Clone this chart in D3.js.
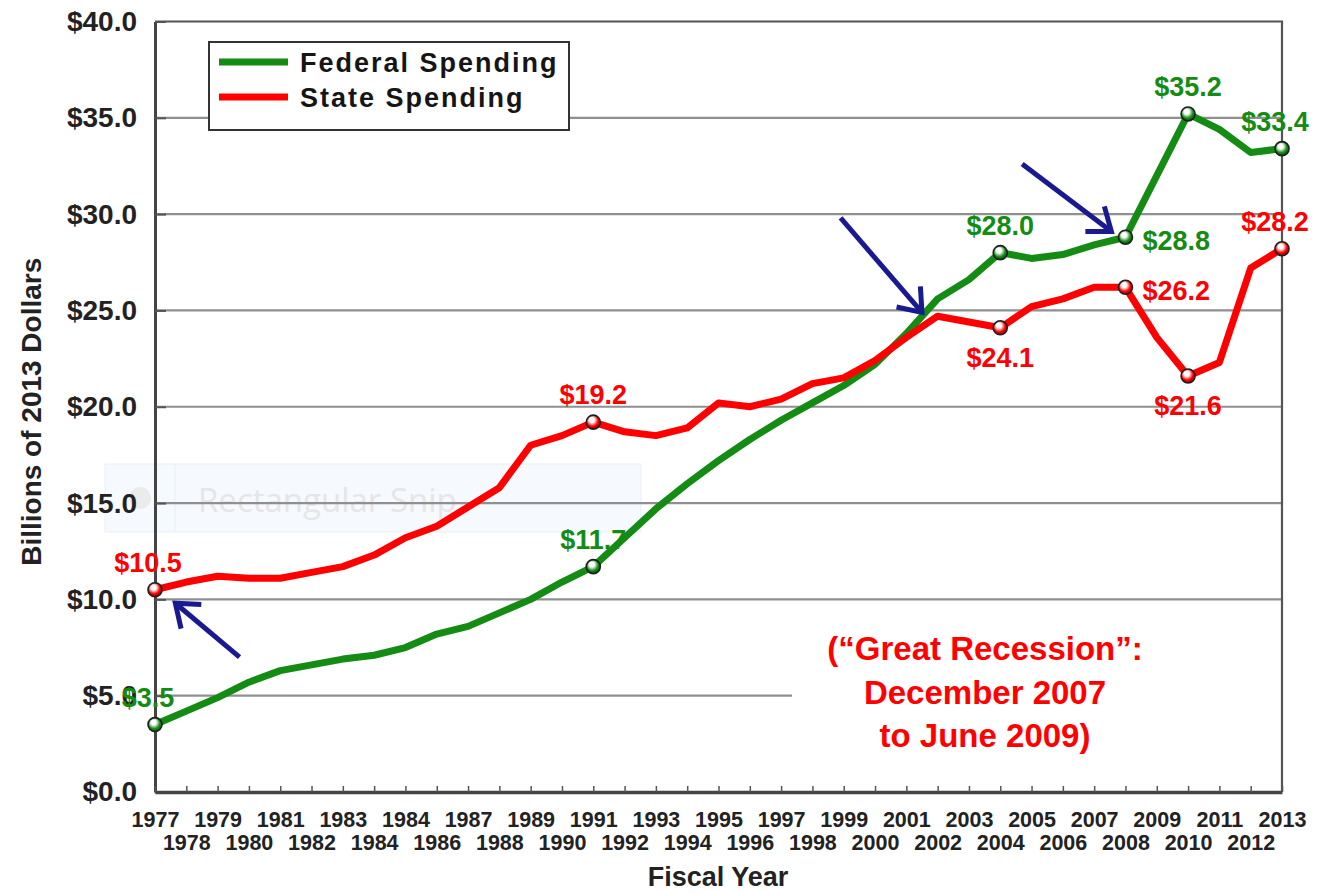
<!DOCTYPE html>
<html><head><meta charset="utf-8">
<script src="https://cdn.jsdelivr.net/npm/d3@7"></script>
<style>
html,body{margin:0;padding:0;background:#fff;}
svg{display:block;font-family:"Liberation Sans",Arial,Helvetica,sans-serif;}
</style>
</head><body>
<svg id="chart" width="1323" height="893"></svg>
<script>
// ---------- data ----------
const years = [1977,1978,1979,1980,1981,1982,1983,1984,1985,1986,1987,1988,1989,1990,1991,1992,1993,1994,1995,1996,1997,1998,1999,2000,2001,2002,2003,2004,2005,2006,2007,2008,2009,2010,2011,2012,2013];
const tickLabels = ["1977","1978","1979","1980","1981","1982","1983","1984","1984","1986","1987","1988","1989","1990","1991","1992","1993","1994","1995","1996","1997","1998","1999","2000","2001","2002","2003","2004","2005","2006","2007","2008","2009","2010","2011","2012","2013"];
const federal = [3.5,4.2,4.9,5.7,6.3,6.6,6.9,7.1,7.5,8.2,8.6,9.3,10.0,10.9,11.7,13.2,14.7,16.0,17.2,18.3,19.3,20.2,21.1,22.2,23.8,25.6,26.6,28.0,27.7,27.9,28.4,28.8,32.0,35.2,34.4,33.2,33.4];
const state   = [10.5,10.9,11.2,11.1,11.1,11.4,11.7,12.3,13.2,13.8,14.8,15.8,18.0,18.5,19.2,18.7,18.5,18.9,20.2,20.0,20.4,21.2,21.5,22.4,23.6,24.7,24.4,24.1,25.2,25.6,26.2,26.2,23.6,21.6,22.3,27.2,28.2];
const yTicks = [0,5,10,15,20,25,30,35,40];
const seriesNames = ["Federal Spending","State Spending"];
const seriesColors = ["#148c14","#ff0000"];
const calloutYears = [
  [1977,1991,2004,2008,2010,2013],
  [1977,1991,2004,2008,2010,2013]
];
const calloutTexts = [
  ["$3.5","$11.7","$28.0","$28.8","$35.2","$33.4"],
  ["$10.5","$19.2","$24.1","$26.2","$21.6","$28.2"]
];
const calloutPlacement = [
  ["above","above","above","right","above","above"],
  ["above","above","below","right","below","above"]
];
// arrows in data units: [fromYear, fromValue, toYear, toValue]
const arrows = [
  [1979.7, 7.0, 1977.65, 9.8],
  [1998.9, 29.8, 2001.5, 24.9],
  [2004.7, 32.6, 2007.55, 29.1]
];
const noteLines = ["(\u201CGreat Recession\u201D:", "December 2007", "to June 2009)"];
const yTitle = "Billions of 2013 Dollars";
const xTitle = "Fiscal Year";

// ---------- layout ----------
const svg = d3.select("#chart");
const L = 155, R = 1282, T = 21.5, B = 792;
const x = d3.scaleLinear().domain([1977, 2013]).range([L, R]);
const y = d3.scaleLinear().domain([0, 40]).range([B, T]);
const series = [federal, state];

// defs: gradients for markers
const defs = svg.append("defs");
seriesColors.forEach((c, i) => {
  const g = defs.append("radialGradient").attr("id", "ball" + i)
    .attr("cx", "45%").attr("cy", "40%").attr("r", "60%").attr("fx", "38%").attr("fy", "32%");
  g.append("stop").attr("offset", "0%").attr("stop-color", "#ffffff");
  g.append("stop").attr("offset", "30%").attr("stop-color", "#ffffff");
  g.append("stop").attr("offset", "70%").attr("stop-color", c);
  g.append("stop").attr("offset", "100%").attr("stop-color", d3.color(c).darker(1.2));
});

// faint screenshot artifact
const snip = svg.append("g");
snip.append("rect").attr("x", 105).attr("y", 464).attr("width", 536).attr("height", 68)
  .attr("fill", "#f6f9fd").attr("stroke", "#e9eff7");
snip.append("line").attr("x1", 175).attr("x2", 175).attr("y1", 464).attr("y2", 532).attr("stroke", "#e9eff7");
snip.append("circle").attr("cx", 140).attr("cy", 498).attr("r", 11).attr("fill", "#ebebeb");
snip.append("text").attr("x", 198).attr("y", 512).attr("font-family", "'Open Sans',sans-serif")
  .attr("font-size", 33).attr("fill", "#e6e6e6").text("Rectangular Snip");

// gridlines
svg.append("g").selectAll("line").data(yTicks.filter(d => d > 0 && d < 40)).join("line")
  .attr("x1", L).attr("x2", R).attr("y1", d => y(d)).attr("y2", d => y(d))
  .attr("stroke", "#8f8f8f").attr("stroke-width", 2.2);

// white box behind note
svg.append("rect").attr("x", 792).attr("y", 615).attr("width", R - 792 - 1).attr("height", 160).attr("fill", "#fff");

// frame (top / right)
svg.append("path").attr("d", `M${L},${T}H${R}V${B}`).attr("fill", "none")
  .attr("stroke", "#555").attr("stroke-width", 2.2);

// y axis
const yAxis = d3.axisLeft(y).tickValues(yTicks).tickSizeInner(-11).tickSizeOuter(0).tickPadding(18)
  .tickFormat(d => "$" + d.toFixed(1));
const gy = svg.append("g").attr("transform", `translate(${L},0)`).call(yAxis);
gy.select(".domain").attr("stroke", "#444").attr("stroke-width", 3);
gy.selectAll(".tick line").attr("stroke", "#555").attr("stroke-width", 2);
gy.selectAll(".tick text").attr("font-size", 28).attr("font-weight", "bold").attr("fill", "#222")
  .attr("font-family", "'Liberation Sans',Arial,sans-serif");

// x axis
const xAxis = d3.axisBottom(x).tickValues(years).tickSizeInner(-6).tickSizeOuter(0).tickPadding(0)
  .tickFormat((d, i) => tickLabels[i]);
const gx = svg.append("g").attr("transform", `translate(0,${B})`).call(xAxis);
gx.select(".domain").attr("stroke", "#444").attr("stroke-width", 3.5);
gx.selectAll(".tick line").attr("stroke", "#555").attr("stroke-width", 1.5);
gx.selectAll(".tick text")
  .attr("font-size", 21.5).attr("font-weight", "bold").attr("fill", "#222")
  .attr("font-family", "'Liberation Sans',Arial,sans-serif")
  .attr("dy", null)
  .attr("y", (d, i) => (i % 2 === 0 ? 35 : 58));

// axis titles
svg.append("text").attr("transform", `translate(41,${(T + B) / 2 + 5}) rotate(-90)`)
  .attr("text-anchor", "middle").attr("font-size", 28).attr("font-weight", "bold").attr("fill", "#222")
  .text(yTitle);
svg.append("text").attr("x", 718).attr("y", 886).attr("text-anchor", "middle")
  .attr("font-size", 27).attr("font-weight", "bold").attr("fill", "#222").text(xTitle);

// series lines
const line = d3.line().x((d, i) => x(years[i])).y(d => y(d));
series.forEach((s, k) => {
  svg.append("path").datum(s).attr("d", line).attr("fill", "none")
    .attr("stroke", seriesColors[k]).attr("stroke-width", 7)
    .attr("stroke-linejoin", "round").attr("stroke-linecap", "round");
});

// arrows
const ag = svg.append("g").attr("stroke", "#1a1a90").attr("stroke-width", 5)
  .attr("fill", "none").attr("stroke-linecap", "butt").attr("stroke-linejoin", "miter");
arrows.forEach(a => {
  const x1 = x(a[0]), y1 = y(a[1]), x2 = x(a[2]), y2 = y(a[3]);
  const ang = Math.atan2(y2 - y1, x2 - x1);
  const hl = 26, ha = 0.65;
  const p1 = [x2 - hl * Math.cos(ang - ha), y2 - hl * Math.sin(ang - ha)];
  const p2 = [x2 - hl * Math.cos(ang + ha), y2 - hl * Math.sin(ang + ha)];
  ag.append("line").attr("x1", x1).attr("y1", y1).attr("x2", x2 - 2 * Math.cos(ang)).attr("y2", y2 - 2 * Math.sin(ang));
  ag.append("path").attr("d", `M${p1[0]},${p1[1]}L${x2},${y2}L${p2[0]},${p2[1]}`);
});

// markers and callouts
series.forEach((s, k) => {
  calloutYears[k].forEach((yr, j) => {
    const i = years.indexOf(yr);
    const px = x(yr), py = y(s[i]);
    svg.append("circle").attr("cx", px).attr("cy", py).attr("r", 7)
      .attr("fill", `url(#ball${k})`).attr("stroke", "#1e1e1e").attr("stroke-width", 1.6);
  });
});
series.forEach((s, k) => {
  calloutYears[k].forEach((yr, j) => {
    const i = years.indexOf(yr);
    const px = x(yr), py = y(s[i]);
    const pl = calloutPlacement[k][j];
    let tx = px, ty = py, anchor = "middle";
    if (pl === "above") { ty = py - 18; }
    else if (pl === "below") { ty = py + 39; }
    else { tx = px + 17; ty = py + 13; anchor = "start"; }
    if (yr === 1977) tx -= 7;
    if (yr === 2013) tx -= 7;
    svg.append("text").attr("x", tx).attr("y", ty).attr("text-anchor", anchor)
      .attr("font-size", 27).attr("font-weight", "bold").attr("fill", seriesColors[k])
      .text(calloutTexts[k][j]);
  });
});

// recession note
svg.append("g").selectAll("text").data(noteLines).join("text")
  .attr("x", 985).attr("y", (d, i) => 660 + i * 43.5).attr("text-anchor", "middle")
  .attr("font-size", 33).attr("font-weight", "bold").attr("fill", "#ff0000").text(d => d);

// legend
const lg = svg.append("g");
lg.append("rect").attr("x", 209).attr("y", 42).attr("width", 360).attr("height", 88)
  .attr("fill", "#fff").attr("stroke", "#333").attr("stroke-width", 2);
seriesNames.forEach((n, k) => {
  const cy = 62 + k * 35;
  lg.append("line").attr("x1", 219).attr("x2", 288).attr("y1", cy).attr("y2", cy)
    .attr("stroke", seriesColors[k]).attr("stroke-width", 7);
  lg.append("text").attr("x", 300).attr("y", cy + 10).attr("font-size", 27).attr("font-weight", "bold")
    .attr("letter-spacing", 2).attr("fill", "#151515").text(n);
});
</script>
</body></html>
